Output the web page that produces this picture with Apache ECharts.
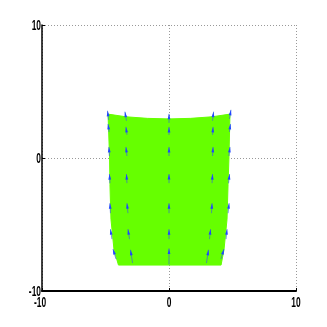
<!DOCTYPE html>
<html><head><meta charset="utf-8">
<style>html,body{margin:0;padding:0;background:#fff}#c{width:327px;height:327px}</style>
<script src="https://cdn.jsdelivr.net/npm/echarts@6/dist/echarts.min.js"></script>
</head><body><div id="c"></div>
<script>
const sheetX = [-4.8,-3.4,-1.7,0,1.7,3.4,4.8,4.72,4.65,4.57,4.33,4.1,-3.98,-4.33,-4.57,-4.65,-4.68];
const sheetY = [3.3,3.1,2.98,2.94,2.98,3.1,3.3,0,-2,-4.6,-6.9,-8.05,-8.05,-6.9,-4.6,-2,0];
const arrowX = [-4.76,-4.72,-4.69,-4.65,-4.61,-4.49,-4.17, -3.35,-3.31,-3.31,-3.31,-3.23,-3.11,-2.87, 0,0,0,0,0,0,0, 3.43,3.43,3.43,3.39,3.35,3.19,2.95, 4.76,4.76,4.72,4.69,4.65,4.49,4.09];
const arrowY = [2.87,1.96,0.15,-1.89,-4.15,-6.1,-7.6, 2.8,1.74,0.15,-1.89,-4.15,-6.1,-7.9, 2.64,1.74,0.15,-1.89,-4.15,-6.1,-8.0, 2.8,1.74,0.15,-1.89,-4.15,-6.1,-7.9, 2.94,1.96,0.15,-1.89,-4.15,-6.1,-7.6];
const arrowU = [-.08,-.08,-.04,-.04,-.04,-.12,-.24, -.12,-.08,-.08,-.04,-.08,-.12,-.16, 0,0,0,0,0,0,0, .08,.04,.04,.04,.04,.08,.16, .12,.08,.08,.08,.08,.08,.24];
const arrowV = [.68,.6,.68,.68,.75,.75,.75, .68,.6,.68,.68,.75,.75,1.0, .68,.6,.68,.68,.75,.75,1.2, .68,.6,.68,.68,.75,.75,1.0, .68,.6,.68,.68,.75,.75,.75];
const tickValues = [-10,0,10];
const chart = echarts.init(document.getElementById('c'));
const axis = pos => ({
  type:'value', min:-10, max:10, interval:10, position:pos,
  axisLine:{show:true,onZero:false,lineStyle:{color:'#000',width:pos==='bottom'?2:1.5}},
  axisTick:{show:true,inside:true,length:3,lineStyle:{color:'#000',width:1}},
  splitLine:{show:true,lineStyle:{color:'#999',type:[1,2],width:1}},
  axisLabel:{show:false}
});
const label = (text,x,y,align) => ({type:'text',x,y,scaleX:.56,scaleY:1,style:{text,font:'bold 15px "Liberation Sans"',fill:'#000',align,verticalAlign:'middle'}});
chart.setOption({
  animation:false, backgroundColor:'#fff',
  grid:{left:42,right:31,top:25,bottom:36,show:false},
  xAxis:axis('bottom'), yAxis:axis('left'),
  series:[
   {type:'custom',coordinateSystem:'cartesian2d',clip:false,z:2,silent:true,
    data:[[sheetX[0],sheetY[0]]],encode:{x:0,y:1},
    renderItem:(p,api)=>({type:'polygon',shape:{points:sheetX.map((x,i)=>api.coord([x,sheetY[i]]))},style:{fill:'#66ff00',stroke:'#66ff00',lineWidth:1}})},
   {type:'custom',coordinateSystem:'cartesian2d',clip:false,z:3,silent:true,
    data:arrowX.map((x,i)=>[x,arrowY[i],arrowU[i],arrowV[i]]),encode:{x:0,y:1},
    renderItem:(p,api)=>{
      const x=api.value(0),y=api.value(1),u=api.value(2),v=api.value(3);
      const a=api.coord([x,y]),b=api.coord([x+u,y+v]);
      const dx=b[0]-a[0],dy=b[1]-a[1],L=Math.hypot(dx,dy)||1,ux=dx/L,uy=dy/L;
      const hl=5.5,hw=1.4,bx=b[0]-ux*hl,by=b[1]-uy*hl;
      return {type:'group',children:[
        {type:'line',shape:{x1:a[0],y1:a[1],x2:b[0],y2:b[1]},style:{stroke:'#3a6ad0',lineWidth:1,opacity:.7}},
        {type:'polygon',shape:{points:[[b[0],b[1]],[bx-uy*hw,by+ux*hw],[bx+uy*hw,by-ux*hw]]},style:{fill:'#1f45ff'}}
      ]};
    }},
   {type:'custom',coordinateSystem:'cartesian2d',clip:false,z:5,silent:true,
    data:tickValues.map(v=>[v,-10]),encode:{x:0,y:1},
    renderItem:(p,api)=>{
      const v=api.value(0),xp=api.coord([v,-10]),yp=api.coord([-10,v]);
      return {type:'group',children:[
        label(String(v),xp[0]+(v<0?-2:0),xp[1]+12,'center'),
        label(String(v),yp[0]-1,yp[1]+1,'right')
      ]};
    }}
  ]
});
</script></body></html>
